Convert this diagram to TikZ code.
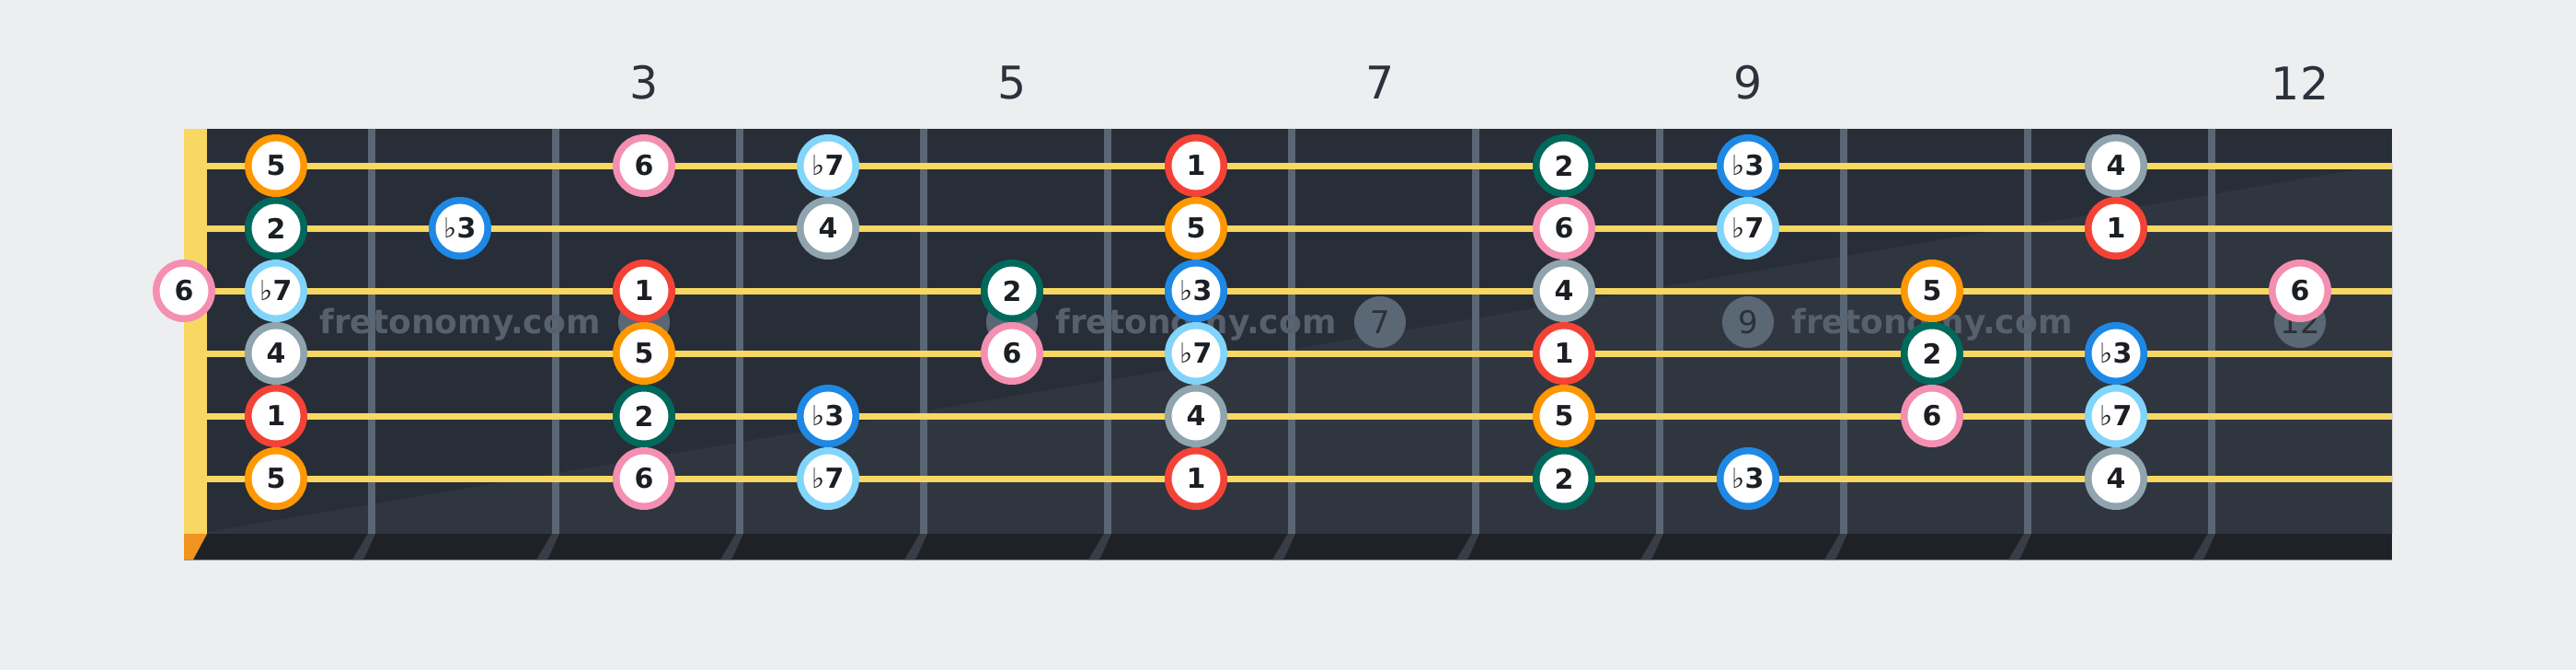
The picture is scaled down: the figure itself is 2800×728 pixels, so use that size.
\documentclass[tikz,border=0pt]{standalone}
\usepackage{fontspec}
\setmainfont{DejaVu Sans}
\definecolor{bg}{HTML}{EDEEF0}
\definecolor{board}{HTML}{282E37}
\definecolor{sheen}{HTML}{30363F}
\definecolor{strip}{HTML}{1E2227}
\definecolor{slant}{HTML}{373E47}
\definecolor{fretc}{HTML}{5A6673}
\definecolor{stringc}{HTML}{F8D862}
\definecolor{nutc}{HTML}{F8D862}
\definecolor{nutbot}{HTML}{F0931F}
\definecolor{markc}{HTML}{5A6774}
\definecolor{marktext}{HTML}{2B3139}
\definecolor{wmark}{HTML}{56616D}
\definecolor{ink}{HTML}{1B1F24}
\definecolor{labelc}{HTML}{2B323C}
\definecolor{cone}{HTML}{F44336}
\definecolor{ctwo}{HTML}{00695C}
\definecolor{cthree}{HTML}{1E88E5}
\definecolor{cfour}{HTML}{90A4AE}
\definecolor{cfive}{HTML}{FF9800}
\definecolor{csix}{HTML}{F48FB1}
\definecolor{cseven}{HTML}{81D4FA}
\newcommand{\flt}{{\mdseries ♭}}
\tikzset{
  tone/.style={circle,fill=white,line width=7.5pt,minimum size=60.5pt,inner sep=0pt,
    font=\fontsize{30}{30}\selectfont\bfseries,text=ink},
  i1/.style={tone,draw=cone},
  i2/.style={tone,draw=ctwo},
  ib3/.style={tone,draw=cthree},
  i4/.style={tone,draw=cfour},
  i5/.style={tone,draw=cfive},
  i6/.style={tone,draw=csix},
  ib7/.style={tone,draw=cseven},
  marker/.style={circle,fill=markc,minimum size=56pt,inner sep=0pt,
    font=\fontsize{34}{34}\selectfont,text=marktext},
  wm/.style={font=\fontsize{36}{36}\selectfont\bfseries,text=wmark},
  fretno/.style={font=\fontsize{49}{49}\selectfont,text=labelc}
}

\begin{document}
\begin{tikzpicture}[x=1pt,y=-1pt]
\useasboundingbox (0,0) rectangle (2800,728);
\fill[bg] (0,0) rectangle (2800,728);
% fretboard
\fill[board] (200,140) rectangle (2600,580);
\fill[sheen] (225,578) -- (2600,178) -- (2600,580) -- (225,580) -- cycle;
\fill[nutc] (200,140) rectangle (225,580);
\fill[strip] (200,580) rectangle (2600,608);
\draw[fretc!70!bg,line width=1pt] (200,608.5) -- (2600,608.5);
\fill[nutbot] (200,580) -- (225,580) -- (210,608) -- (200,608) -- cycle;
\fill[slant] (400,580) -- (408,580) -- (395,608) -- (383,608) -- cycle
  (600,580) -- (608,580) -- (595,608) -- (583,608) -- cycle
  (800,580) -- (808,580) -- (795,608) -- (783,608) -- cycle
  (1000,580) -- (1008,580) -- (995,608) -- (983,608) -- cycle
  (1200,580) -- (1208,580) -- (1195,608) -- (1183,608) -- cycle
  (1400,580) -- (1408,580) -- (1395,608) -- (1383,608) -- cycle
  (1600,580) -- (1608,580) -- (1595,608) -- (1583,608) -- cycle
  (1800,580) -- (1808,580) -- (1795,608) -- (1783,608) -- cycle
  (2000,580) -- (2008,580) -- (1995,608) -- (1983,608) -- cycle
  (2200,580) -- (2208,580) -- (2195,608) -- (2183,608) -- cycle
  (2400,580) -- (2408,580) -- (2395,608) -- (2383,608) -- cycle;
% frets
\draw[fretc,line width=8pt] (404,140) -- (404,580) (604,140) -- (604,580)
  (804,140) -- (804,580) (1004,140) -- (1004,580) (1204,140) -- (1204,580)
  (1404,140) -- (1404,580) (1604,140) -- (1604,580) (1804,140) -- (1804,580)
  (2004,140) -- (2004,580) (2204,140) -- (2204,580) (2404,140) -- (2404,580);
% strings
\draw[stringc,line width=7pt] (225,180) -- (2600,180) (225,248) -- (2600,248)
  (225,316) -- (2600,316) (225,384) -- (2600,384)
  (225,452) -- (2600,452) (225,520) -- (2600,520);
% inlays
\node[marker](m3) at(700,350){};
\node[marker](m5) at(1100,350){};
\node[marker](m7) at(1500,350){7};
\node[marker](m9) at(1900,350){9};
\node[marker](m12) at(2500,350){12};
\node[wm](w1) at(500,353){fretonomy.com};
\node[wm](w2) at(1300,353){fretonomy.com};
\node[wm](w3) at(2100,353){fretonomy.com};
% fret numbers
\node[fretno](l3) at(700,90){3};
\node[fretno](l5) at(1100,90){5};
\node[fretno](l7) at(1500,90){7};
\node[fretno](l9) at(1900,90){9};
\node[fretno](l12) at(2500,90){12};
% string 1
\node[i5](s1f1) at(300,180){5};
\node[i6](s1f3) at(700,180){6};
\node[ib7](s1f4) at(900,180){\flt7};
\node[i1](s1f6) at(1300,180){1};
\node[i2](s1f8) at(1700,180){2};
\node[ib3](s1f9) at(1900,180){\flt3};
\node[i4](s1f11) at(2300,180){4};
% string 2
\node[i2](s2f1) at(300,248){2};
\node[ib3](s2f2) at(500,248){\flt3};
\node[i4](s2f4) at(900,248){4};
\node[i5](s2f6) at(1300,248){5};
\node[i6](s2f8) at(1700,248){6};
\node[ib7](s2f9) at(1900,248){\flt7};
\node[i1](s2f11) at(2300,248){1};
% string 3
\node[i6](s3f0) at(200,316){6};
\node[ib7](s3f1) at(300,316){\flt7};
\node[i1](s3f3) at(700,316){1};
\node[i2](s3f5) at(1100,316){2};
\node[ib3](s3f6) at(1300,316){\flt3};
\node[i4](s3f8) at(1700,316){4};
\node[i5](s3f10) at(2100,316){5};
\node[i6](s3f12) at(2500,316){6};
% string 4
\node[i4](s4f1) at(300,384){4};
\node[i5](s4f3) at(700,384){5};
\node[i6](s4f5) at(1100,384){6};
\node[ib7](s4f6) at(1300,384){\flt7};
\node[i1](s4f8) at(1700,384){1};
\node[i2](s4f10) at(2100,384){2};
\node[ib3](s4f11) at(2300,384){\flt3};
% string 5
\node[i1](s5f1) at(300,452){1};
\node[i2](s5f3) at(700,452){2};
\node[ib3](s5f4) at(900,452){\flt3};
\node[i4](s5f6) at(1300,452){4};
\node[i5](s5f8) at(1700,452){5};
\node[i6](s5f10) at(2100,452){6};
\node[ib7](s5f11) at(2300,452){\flt7};
% string 6
\node[i5](s6f1) at(300,520){5};
\node[i6](s6f3) at(700,520){6};
\node[ib7](s6f4) at(900,520){\flt7};
\node[i1](s6f6) at(1300,520){1};
\node[i2](s6f8) at(1700,520){2};
\node[ib3](s6f9) at(1900,520){\flt3};
\node[i4](s6f11) at(2300,520){4};
\end{tikzpicture}
\end{document}
